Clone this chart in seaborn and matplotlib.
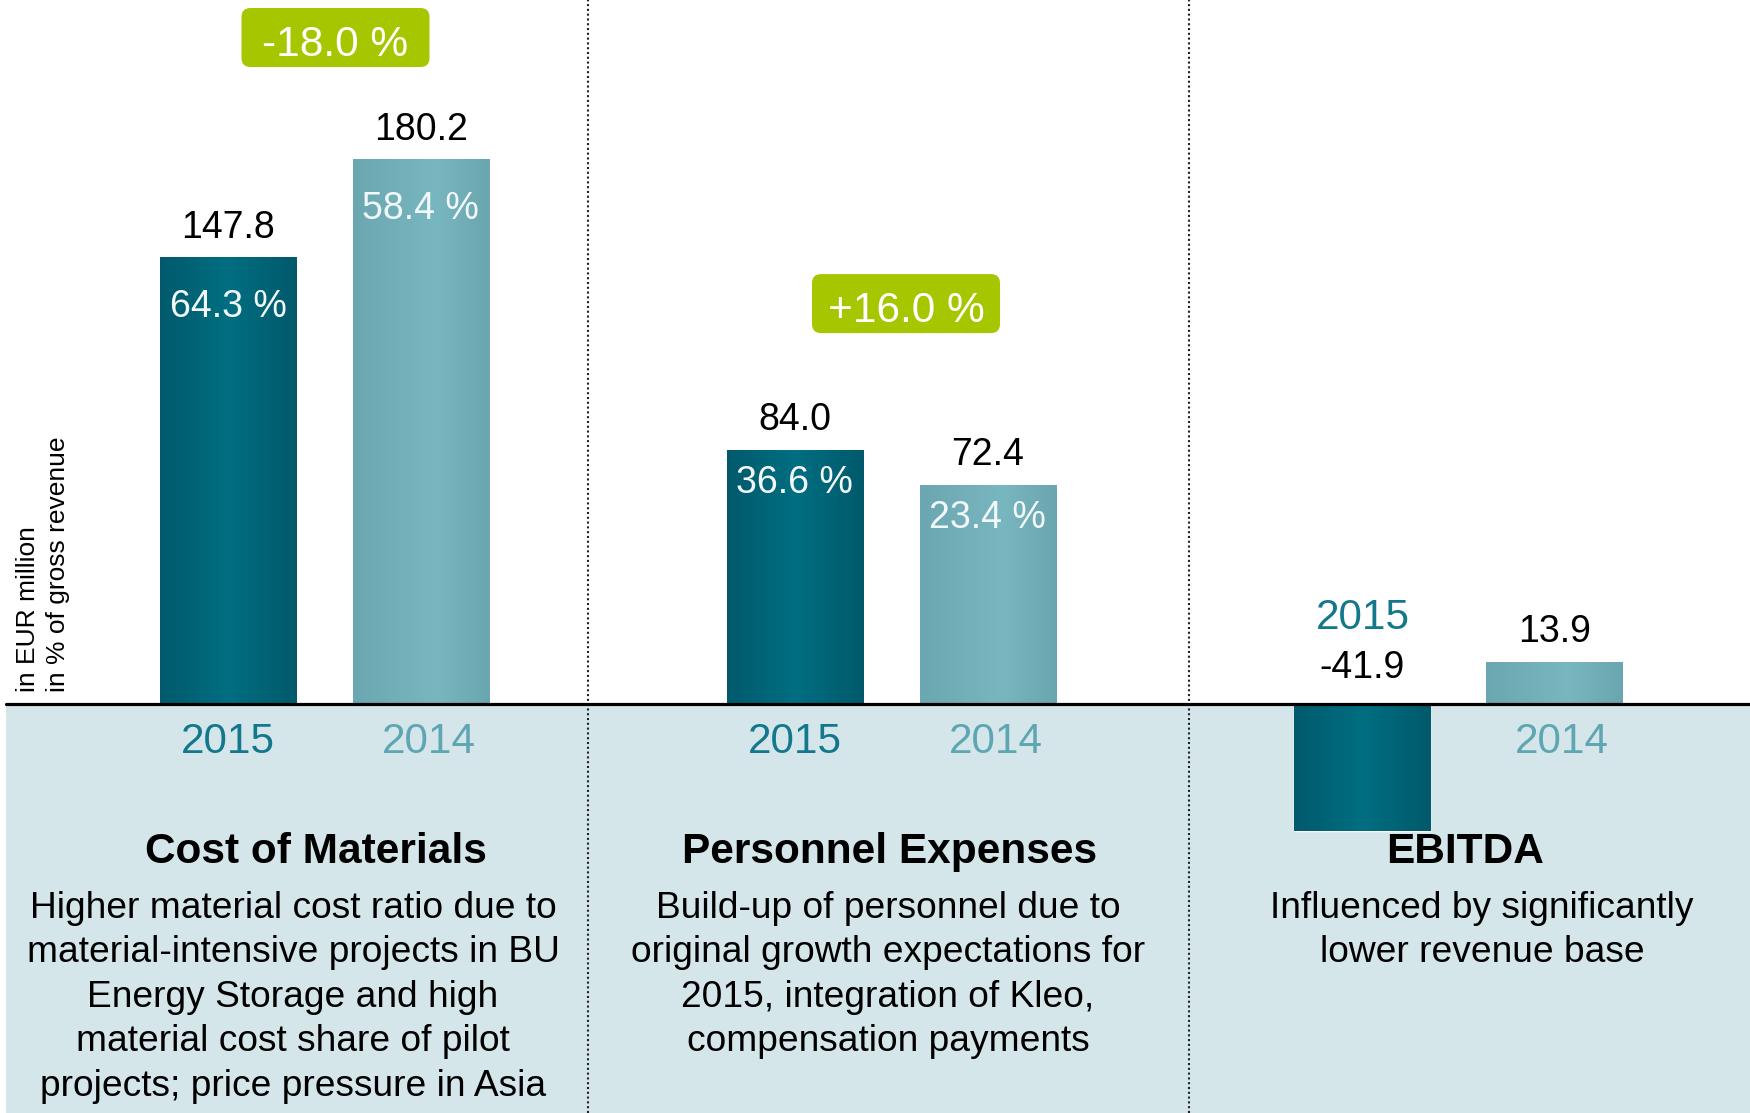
import numpy as np
import pandas as pd
import matplotlib
matplotlib.use("Agg")
import matplotlib.pyplot as plt
import seaborn as sns
from matplotlib.colors import LinearSegmentedColormap
from matplotlib.patches import FancyBboxPatch
from matplotlib.transforms import IdentityTransform

# ---------------- data ----------------
categories = ["Cost of Materials", "Personnel Expenses", "EBITDA"]
years = ["2015", "2014"]
values_2015 = [147.8, 84.0, -41.9]
values_2014 = [180.2, 72.4, 13.9]
pct_2015 = ["64.3 %", "36.6 %", None]
pct_2014 = ["58.4 %", "23.4 %", None]
change_labels = ["-18.0 %", "+16.0 %", None]
descriptions = [
    ["Higher material cost ratio due to", "material-intensive projects in BU",
     "Energy Storage and high", "material cost share of pilot",
     "projects; price pressure in Asia"],
    ["Build-up of personnel due to", "original growth expectations for",
     "2015, integration of Kleo,", "compensation payments"],
    ["Influenced by significantly", "lower revenue base"],
]
ylabel_lines = ["in EUR million", "in % of gross revenue"]

# ---------------- style / layout ----------------
sns.set_style("white")
plt.rcParams["font.family"] = ["Liberation Sans", "DejaVu Sans"]

W, H = 1750, 1113
x0_px, pxu = 324.5, 566.75      # pixel position of first category, px per category
base_px, pyu = 704.0, 3.02      # pixel row of zero line, px per EUR million
PT = 0.72                       # points per pixel at dpi 100

bar_colors = ["#046a7e", "#72afba"]
year_colors = ["#14788c", "#5fa6b3"]
grad_stops = [
    [(0.0, "#005a6c"), (0.5, "#006e81"), (1.0, "#005a6b")],
    [(0.0, "#6ba7b1"), (0.6, "#78b6c0"), (1.0, "#6aa6b0")],
]
panel_color = "#d5e6eb"
green = "#a6c700"

pct_offset_px = [45.5, 29.0, 0]          # centre of % label below bar top
year_dx_px = [0, 8]                      # horizontal nudge of year labels
title_dx_px = [-8.5, -1.75, 7.5]
desc_dx_px = [-31.5, -3.25, 24.0]
box_dx_px = [11.0, 14.75, 0]
box_y_px = [37.5, 303.6, 0]              # box centre, from top of figure
box_w_px, box_h_px = 188, 59
sep_px = [588, 1189]

df = pd.DataFrame({
    "category": categories * 2,
    "year": [years[0]] * 3 + [years[1]] * 3,
    "value": values_2015 + values_2014,
})

fig = plt.figure(figsize=(W / 100, H / 100), dpi=100)
ax = fig.add_axes([0, 0, 1, 1])

sns.barplot(data=df, x="category", y="value", hue="year", order=categories,
            hue_order=years, palette=bar_colors, width=0.68, gap=0.294,
            saturation=1, legend=False, ax=ax, zorder=2, errorbar=None)

xlim = (-x0_px / pxu, (W - x0_px) / pxu)
ylim = (-(H - base_px) / pyu, base_px / pyu)

# gradient overlay on bars
for cont, stops in zip(ax.containers, grad_stops):
    cmap = LinearSegmentedColormap.from_list("g", stops)
    for p in cont.patches:
        x, y, w, h = p.get_x(), p.get_y(), p.get_width(), p.get_height()
        y0, y1 = min(y, y + h), max(y, y + h)
        ax.imshow(np.linspace(0, 1, 256)[None, :], cmap=cmap,
                  extent=[x, x + w, y0, y1], aspect="auto", zorder=2.1,
                  interpolation="bilinear")

# light panel, baseline and separators
ax.axhspan(ylim[0], 0, xmin=6 / W, xmax=1, color=panel_color, zorder=0, lw=0)
ax.axhline(0, xmin=6 / W, xmax=1, color="black", lw=2.3, zorder=4)
for s in sep_px:
    ax.axvline((s - x0_px) / pxu, color="#222222", lw=1.5,
               linestyle=(0, (1, 1.3)), zorder=1)

ax.set_xlim(*xlim)
ax.set_ylim(*ylim)

# labels on bars
all_vals = [values_2015, values_2014]
all_pcts = [pct_2015, pct_2014]
for j, cont in enumerate(ax.containers):
    for i, p in enumerate(cont.patches):
        xc = p.get_x() + p.get_width() / 2
        v = all_vals[j][i]
        if v >= 0:
            ax.annotate(f"{v:.1f}", (xc, v), xytext=(0, 14.4), textcoords="offset points",
                        ha="center", va="baseline", fontsize=27, color="black", zorder=5)
            ax.annotate(years[j], (xc, 0), xytext=(year_dx_px[j] * PT, -35),
                        textcoords="offset points", ha="center", va="baseline",
                        fontsize=30.4, color=year_colors[j], zorder=5)
            pct = all_pcts[j][i]
            if pct:
                ax.annotate(pct, (xc, v), xytext=(0, -(pct_offset_px[i] + 13.5) * PT),
                            textcoords="offset points", ha="center", va="baseline",
                            fontsize=27, color="#f2f8fa", zorder=5)
        else:
            ax.annotate(f"{v:.1f}", (xc, 0), xytext=(0, 18.4), textcoords="offset points",
                        ha="center", va="baseline", fontsize=27, color="black", zorder=5)
            ax.annotate(years[j], (xc, 0), xytext=(1.5 * PT, 54), textcoords="offset points",
                        ha="center", va="baseline", fontsize=30.4, color=year_colors[j], zorder=5)

# change boxes, titles, descriptions
for i, cat in enumerate(categories):
    if change_labels[i]:
        cx = ax.transData.transform((i + box_dx_px[i] / pxu, 0))[0]
        cy = H - box_y_px[i]
        box = FancyBboxPatch((cx - box_w_px / 2, cy - box_h_px / 2), box_w_px, box_h_px,
                             boxstyle="round,pad=0,rounding_size=9", fc=green, ec="none",
                             transform=IdentityTransform(), zorder=6)
        ax.add_artist(box)
        ax.annotate(change_labels[i], (i + box_dx_px[i] / pxu, cy - 18),
                    xycoords=("data", "figure pixels"), ha="center", va="baseline",
                    fontsize=30.5, color="white", zorder=7)
    ax.annotate(cat, (i + title_dx_px[i] / pxu, 0), xytext=(0, -159 * PT),
                textcoords="offset points", ha="center", va="baseline",
                fontsize=30.5, fontweight="bold", color="black", zorder=5)
    for k, line in enumerate(descriptions[i]):
        ax.annotate(line, (i + desc_dx_px[i] / pxu, 0),
                    xytext=(0, -(213.5 + 44.6 * k) * PT), textcoords="offset points",
                    ha="center", va="baseline", fontsize=26.7, color="black", zorder=5)

# rotated unit labels
for line, xp in zip(ylabel_lines, [28, 58]):
    fig.text(xp / W, (H - 692) / H, line, rotation=90, ha="center", va="bottom",
             fontsize=19, color="black")

ax.axis("off")

fig.savefig("out.png", dpi=100)
